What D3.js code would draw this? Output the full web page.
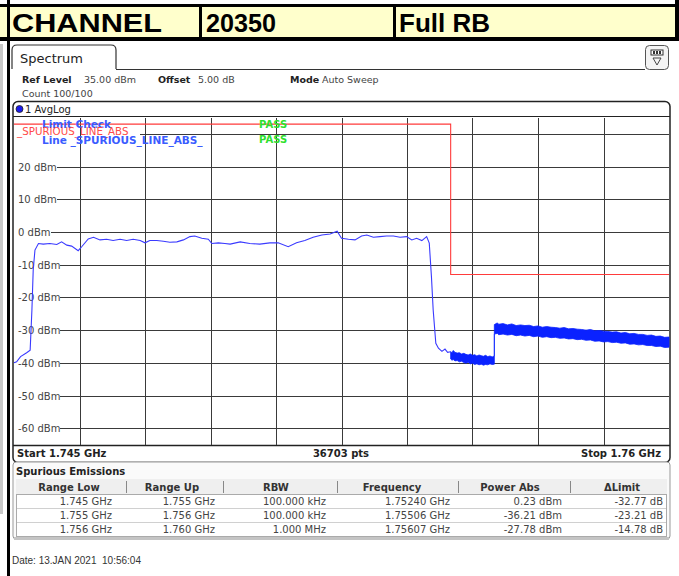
<!DOCTYPE html>
<html><head><meta charset="utf-8">
<script src="https://cdn.jsdelivr.net/npm/d3@7"></script>
<style>
html,body{margin:0;padding:0;background:#fff;}
svg{display:block;}
</style></head><body>
<svg id="c" width="679" height="576"></svg>
<script>
// ---- header cells ----
const headerCells = ["CHANNEL", "20350", "Full RB"];

// ---- instrument settings ----
const settingNames = ["Ref Level", "Offset", "Mode"];
const settingValues = ["35.00 dBm", "5.00 dB", "Auto Sweep"];
const countText = "Count 100/100";
const traceName = "1 AvgLog";

// ---- axes ----
const freqStart = 1745, freqStop = 1760;           // MHz
const levelTop = 35, levelBottom = -65;            // dBm
const yTicks = [30, 20, 10, 0, -10, -20, -30, -40, -50, -60];
const xDivisions = [1745, 1746.5, 1748, 1749.5, 1751, 1752.5, 1754, 1755.5, 1757, 1758.5, 1760];
const startLabel = "Start 1.745 GHz", stopLabel = "Stop 1.76 GHz", pointsLabel = "36703 pts";

// ---- limit line _SPURIOUS_LINE_ABS ----
const limitFreq = [1745, 1755, 1755, 1760];
const limitDbm = [33, 33, -13, -13];

// ---- trace (single line part), MHz / dBm ----
const traceFreq = [1745.00, 1745.06, 1745.15, 1745.29, 1745.37, 1745.41, 1745.44, 1745.48, 1745.56,
  1745.67, 1745.82, 1745.98, 1746.09, 1746.21, 1746.32, 1746.47, 1746.55, 1746.70, 1746.82,
  1746.97, 1747.12, 1747.27, 1747.43, 1747.58, 1747.73, 1747.89, 1748.00, 1748.11, 1748.27,
  1748.42, 1748.57, 1748.73, 1748.88, 1749.03, 1749.14, 1749.30, 1749.45, 1749.53, 1749.68,
  1749.83, 1749.95, 1750.18, 1750.40, 1750.63, 1750.86, 1751.05, 1751.28, 1751.47, 1751.66,
  1751.85, 1752.05, 1752.24, 1752.40, 1752.50, 1752.66, 1752.81, 1752.96, 1753.08, 1753.23,
  1753.38, 1753.53, 1753.69, 1753.84, 1753.99, 1754.11, 1754.22, 1754.34, 1754.45, 1754.51,
  1754.56, 1754.60, 1754.66, 1754.72, 1754.80, 1754.87, 1754.93, 1755.00];
const traceDbm = [-40.0, -39.7, -38.1, -36.9, -36.1, -23.9, -11.6, -5.5, -3.5,
  -3.7, -3.5, -3.8, -3.0, -4.0, -4.3, -5.7, -4.5, -2.1, -1.6,
  -2.4, -2.2, -2.6, -2.2, -2.6, -2.2, -2.6, -3.3, -2.6, -2.6,
  -2.8, -3.1, -3.0, -2.4, -1.4, -1.2, -1.9, -2.2, -3.5, -3.3,
  -3.5, -3.7, -3.0, -3.5, -3.7, -3.3, -3.3, -4.5, -3.3, -2.6,
  -1.6, -0.9, -0.6, 0.23, -1.9, -2.2, -2.4, -1.2, -0.9, -1.6,
  -1.4, -1.2, -1.2, -1.6, -1.4, -2.4, -1.9, -2.6, -1.4, -3.4,
  -13.7, -23.9, -34.0, -35.5, -36.5, -35.8, -36.8, -36.6];

// ---- noise bands (upper / lower envelope) ----
const bandFreq = [1755.00, 1755.03, 1755.06, 1755.10, 1755.15, 1755.20, 1755.25, 1755.30, 1755.35,
  1755.40, 1755.45, 1755.50, 1755.55, 1755.60, 1755.65, 1755.70, 1755.75, 1755.80, 1755.85,
  1755.90, 1755.95, 1756.00,
  1756.00, 1756.07, 1756.10, 1756.20, 1756.30, 1756.40, 1756.50, 1756.60, 1756.70, 1756.80,
  1756.90, 1757.00, 1757.10, 1757.20, 1757.30, 1757.40, 1757.50, 1757.60, 1757.70, 1757.80,
  1757.90, 1758.00, 1758.10, 1758.20, 1758.30, 1758.40, 1758.50, 1758.60, 1758.70, 1758.80,
  1758.90, 1759.00, 1759.10, 1759.20, 1759.30, 1759.40, 1759.50, 1759.60, 1759.70, 1759.80,
  1759.90, 1760.00];
const bandHi = [-36.6, -36.9, -36.21, -36.8, -37.0, -36.9, -37.3, -37.1, -37.4,
  -37.6, -37.3, -37.7, -37.5, -37.9, -37.6, -37.8, -38.0, -37.7, -38.1,
  -37.9, -38.2, -37.9,
  -28.3, -27.78, -28.2, -28.0, -28.4, -28.1, -28.6, -28.4, -28.6, -28.5,
  -28.9, -28.7, -29.1, -28.9, -29.1, -29.2, -29.4, -29.2, -29.6, -29.5,
  -29.7, -29.8, -30.0, -29.8, -30.2, -30.1, -30.3, -30.4, -30.6, -30.5,
  -30.9, -30.7, -31.1, -31.0, -31.3, -31.3, -31.6, -31.5, -31.9, -31.8,
  -32.2, -32.1];
const bandLo = [-38.8, -39.2, -39.0, -39.4, -39.3, -39.7, -39.5, -39.9, -40.1,
  -39.8, -40.3, -40.1, -40.5, -40.3, -40.6, -40.4, -40.7, -40.5, -40.6,
  -40.3, -40.5, -40.4,
  -31.2, -31.0, -31.4, -31.2, -31.5, -31.3, -31.7, -31.5, -31.8, -31.6,
  -32.0, -31.8, -32.2, -32.0, -32.3, -32.2, -32.5, -32.4, -32.7, -32.6,
  -32.9, -32.8, -33.1, -33.0, -33.4, -33.3, -33.6, -33.5, -33.8, -33.7,
  -34.0, -33.9, -34.3, -34.2, -34.5, -34.4, -34.7, -34.7, -35.0, -34.9,
  -35.3, -35.2];

// ---- limit check legend ----
const limitCheckLabel = "Limit Check", limitLineName = "_SPURIOUS_LINE_ABS",
      lineLabel = "Line _SPURIOUS_LINE_ABS_", passText = "PASS";

// ---- spurious emissions table ----
const tableTitle = "Spurious Emissions";
const colHeaders = ["Range Low", "Range Up", "RBW", "Frequency", "Power Abs", "\u0394Limit"];
const rangeLow = ["1.745 GHz", "1.755 GHz", "1.756 GHz"];
const rangeUp = ["1.755 GHz", "1.756 GHz", "1.760 GHz"];
const rbw = ["100.000 kHz", "100.000 kHz", "1.000 MHz"];
const peakFreq = ["1.75240 GHz", "1.75506 GHz", "1.75607 GHz"];
const powerAbs = ["0.23 dBm", "-36.21 dBm", "-27.78 dBm"];
const deltaLimit = ["-32.77 dB", "-23.21 dB", "-14.78 dB"];
const dateText = "Date: 13.JAN 2021  10:56:04";

// ================= drawing =================
const svg = d3.select("#c");
const INST = "'DejaVu Sans', Verdana, sans-serif";

svg.append("rect").attr("width", 679).attr("height", 576).attr("fill", "#fff");

// header row
const hdr = svg.append("g");
hdr.append("rect").attr("x", 0).attr("y", 6).attr("width", 679).attr("height", 33).attr("fill", "#ffffcc");
hdr.append("rect").attr("x", 0).attr("y", 4).attr("width", 679).attr("height", 3).attr("fill", "#000");
hdr.append("rect").attr("x", 0).attr("y", 37).attr("width", 679).attr("height", 4).attr("fill", "#000");
[199, 393].forEach(x => hdr.append("rect").attr("x", x).attr("y", 4).attr("width", 3).attr("height", 36).attr("fill", "#000"));
const cellX = [12, 206, 399];
const cellW = [150, 70, 91];
headerCells.forEach((t, i) => hdr.append("text").attr("x", cellX[i]).attr("y", 32)
  .attr("font-family", "'Liberation Sans', Arial, sans-serif").attr("font-weight", "bold")
  .attr("font-size", 26).attr("fill", "#000")
  .attr("textLength", cellW[i]).attr("lengthAdjust", "spacingAndGlyphs").text(t));

// side bars
svg.append("rect").attr("x", 7).attr("y", 0).attr("width", 3).attr("height", 576).attr("fill", "#000");
svg.append("rect").attr("x", 675).attr("y", 0).attr("width", 4).attr("height", 41).attr("fill", "#000");
svg.append("rect").attr("x", 0).attr("y", 44).attr("width", 3).attr("height", 470).attr("fill", "#c8c8c8");

// tab
svg.append("path").attr("d", "M12,69 L12,50 Q12,45 17,45 L111,45 Q116,45 116,50 L116,69")
  .attr("fill", "#fff").attr("stroke", "#333").attr("stroke-width", 1.2);
svg.append("line").attr("x1", 116).attr("x2", 645).attr("y1", 69.5).attr("y2", 69.5)
  .attr("stroke", "#333").attr("stroke-width", 1.2);
svg.append("text").attr("x", 20).attr("y", 63).attr("font-family", INST).attr("font-size", 13)
  .attr("fill", "#222").text("Spectrum");
// menu icon
const ic = svg.append("g");
ic.append("rect").attr("x", 645.5).attr("y", 45.5).attr("width", 23).attr("height", 24).attr("rx", 4)
  .attr("fill", "#f4f4f4").attr("stroke", "#555");
ic.append("rect").attr("x", 651).attr("y", 50).attr("width", 12).attr("height", 5).attr("fill", "#fff").attr("stroke", "#333");
[653, 656, 659].forEach(x => ic.append("rect").attr("x", x).attr("y", 51).attr("width", 2).attr("height", 3).attr("fill", "#333"));
ic.append("path").attr("d", "M653,58 L661,58 L657,65 Z").attr("fill", "none").attr("stroke", "#444");

// settings
const setX = [[22, 84], [158, 198], [290, 322]];
settingNames.forEach((n, i) => {
  svg.append("text").attr("x", setX[i][0]).attr("y", 83).attr("font-family", INST)
    .attr("font-weight", "bold").attr("font-size", 9.5).attr("fill", "#222").text(n);
  svg.append("text").attr("x", setX[i][1]).attr("y", 83).attr("font-family", INST)
    .attr("font-size", 9.5).attr("fill", "#444").text(settingValues[i]);
});
svg.append("text").attr("x", 22).attr("y", 97).attr("font-family", INST).attr("font-size", 9.5)
  .attr("fill", "#444").text(countText);

// diagram frame
const plot = { left: 14, right: 669, top: 117.6, bottom: 444.6 };
const x = d3.scaleLinear().domain([freqStart, freqStop]).range([plot.left, plot.right]);
const y = d3.scaleLinear().domain([levelBottom, levelTop]).range([plot.bottom, plot.top]);

svg.append("rect").attr("x", 13).attr("y", 101.5).attr("width", 657).attr("height", 361)
  .attr("rx", 5).attr("fill", "#fff").attr("stroke", "#222").attr("stroke-width", 1.5);
svg.append("line").attr("x1", 13).attr("x2", 670).attr("y1", 116.5).attr("y2", 116.5).attr("stroke", "#222").attr("stroke-width", 1.2);
svg.append("line").attr("x1", 13).attr("x2", 670).attr("y1", 445.5).attr("y2", 445.5).attr("stroke", "#222").attr("stroke-width", 1.5);
svg.append("circle").attr("cx", 19.5).attr("cy", 109).attr("r", 3.5).attr("fill", "#1a1aee").attr("stroke", "#222").attr("stroke-width", 0.8);
svg.append("text").attr("x", 25).attr("y", 113).attr("font-family", INST).attr("font-size", 10)
  .attr("fill", "#222").text(traceName);

// grid
const grid = svg.append("g").attr("stroke", "#3a3a3a").attr("stroke-width", 1).attr("shape-rendering", "crispEdges");
grid.selectAll("line.v").data(xDivisions.slice(1, -1)).join("line")
  .attr("x1", d => Math.round(x(d)) + 0.5).attr("x2", d => Math.round(x(d)) + 0.5)
  .attr("y1", plot.top).attr("y2", plot.bottom);

// level labels and horizontal lines
const labels = svg.append("g");
yTicks.forEach(v => {
  const yy = Math.round(y(v)) + 0.5;
  if (v === 30) {
    // the limit check legend occupies this label's place
    grid.append("line").attr("x1", 140).attr("x2", plot.right).attr("y1", yy).attr("y2", yy);
    return;
  }
  const t = labels.append("text").attr("x", 18).attr("y", yy + 3.5).attr("font-family", INST)
    .attr("font-size", 10).attr("fill", "#444").text(v + " dBm");
  const w = t.node().getComputedTextLength();
  grid.append("line").attr("x1", 18 + w).attr("x2", plot.right).attr("y1", yy).attr("y2", yy);
});

// limit line
const limitPts = limitFreq.map((f, i) => [f, limitDbm[i]]);
svg.append("path").attr("d", d3.line().x(d => x(d[0])).y(d => y(d[1]))(limitPts))
  .attr("fill", "none").attr("stroke", "#ff3b3b").attr("stroke-width", 1.1);

// limit check legend
svg.append("text").attr("x", 42).attr("y", 128).attr("font-family", INST).attr("font-weight", "bold")
  .attr("font-size", 10.5).attr("fill", "#3a5cff").text(limitCheckLabel);
svg.append("text").attr("x", 17).attr("y", 135).attr("font-family", INST)
  .attr("font-size", 10.3).attr("fill", "#ff4a4a").text(limitLineName);
svg.append("text").attr("x", 42).attr("y", 144).attr("font-family", INST).attr("font-weight", "bold")
  .attr("font-size", 10.5).attr("fill", "#3a5cff").text(lineLabel);
[128, 143].forEach(yy => svg.append("text").attr("x", 259).attr("y", yy).attr("font-family", INST)
  .attr("font-weight", "bold").attr("font-size", 10).attr("fill", "#2ee02e").text(passText));

// trace
const tracePts = traceFreq.map((f, i) => [f, traceDbm[i]]);
svg.append("path").attr("d", d3.line().x(d => x(d[0])).y(d => y(d[1]))(tracePts))
  .attr("fill", "none").attr("stroke", "#3a3aff").attr("stroke-width", 1.1);
const bandPts = bandFreq.map((f, i) => [f, bandHi[i], bandLo[i]]);
svg.append("path").attr("d", d3.area().x(d => x(d[0])).y0(d => y(d[2])).y1(d => y(d[1]))(bandPts))
  .attr("fill", "#0a22ff").attr("stroke", "#0a22ff").attr("stroke-width", 0.8);

// start / stop row
const foot = svg.append("g").attr("font-family", INST).attr("font-weight", "bold").attr("font-size", 10).attr("fill", "#222");
foot.append("text").attr("x", 17).attr("y", 457).text(startLabel);
foot.append("text").attr("x", 341).attr("y", 457).attr("text-anchor", "middle").text(pointsLabel);
foot.append("text").attr("x", 661).attr("y", 457).attr("text-anchor", "end").text(stopLabel);

// spurious emissions table
svg.append("rect").attr("x", 13).attr("y", 462).attr("width", 657).attr("height", 77).attr("rx", 3)
  .attr("fill", "#fafafa").attr("stroke", "#999");
svg.append("line").attr("x1", 14).attr("x2", 669).attr("y1", 538.5).attr("y2", 538.5).attr("stroke", "#c4c4c4").attr("stroke-width", 3);
svg.append("text").attr("x", 16).attr("y", 475).attr("font-family", INST).attr("font-weight", "bold")
  .attr("font-size", 10).attr("fill", "#222").text(tableTitle);
const colEdges = [16, 126, 223, 337, 458, 570, 667];
const headCenter = [69, 172, 276, 392, 510, 622];
const valueEnd = [112, 215, 326, 450, 562, 663];
svg.append("rect").attr("x", 16).attr("y", 479).attr("width", 651).attr("height", 15).attr("fill", "#efefef");
colEdges.slice(1, -1).forEach(cx => svg.append("line").attr("x1", cx + 0.5).attr("x2", cx + 0.5)
  .attr("y1", 481).attr("y2", 493).attr("stroke", "#888"));
colHeaders.forEach((h, i) => svg.append("text").attr("x", headCenter[i]).attr("y", 490.5)
  .attr("text-anchor", "middle").attr("font-family", INST).attr("font-weight", "bold")
  .attr("font-size", 10).attr("fill", "#333").text(h));
svg.append("rect").attr("x", 16.5).attr("y", 494.5).attr("width", 650).attr("height", 42)
  .attr("fill", "#fff").attr("stroke", "#aaa");
[508.5, 522.5].forEach(yy => svg.append("line").attr("x1", 17).attr("x2", 666).attr("y1", yy).attr("y2", yy)
  .attr("stroke", "#d0d0d0"));
const cols = [rangeLow, rangeUp, rbw, peakFreq, powerAbs, deltaLimit];
cols.forEach((col, c) => col.forEach((v, r) => svg.append("text").attr("x", valueEnd[c]).attr("y", 505 + r * 14)
  .attr("text-anchor", "end").attr("font-family", INST).attr("font-size", 10).attr("fill", "#444").text(v)));

// date stamp
svg.append("text").attr("x", 12).attr("y", 564).attr("font-family", "'Liberation Sans', Arial, sans-serif")
  .attr("font-size", 10).attr("fill", "#333").style("white-space", "pre").text(dateText);
</script>
</body></html>
